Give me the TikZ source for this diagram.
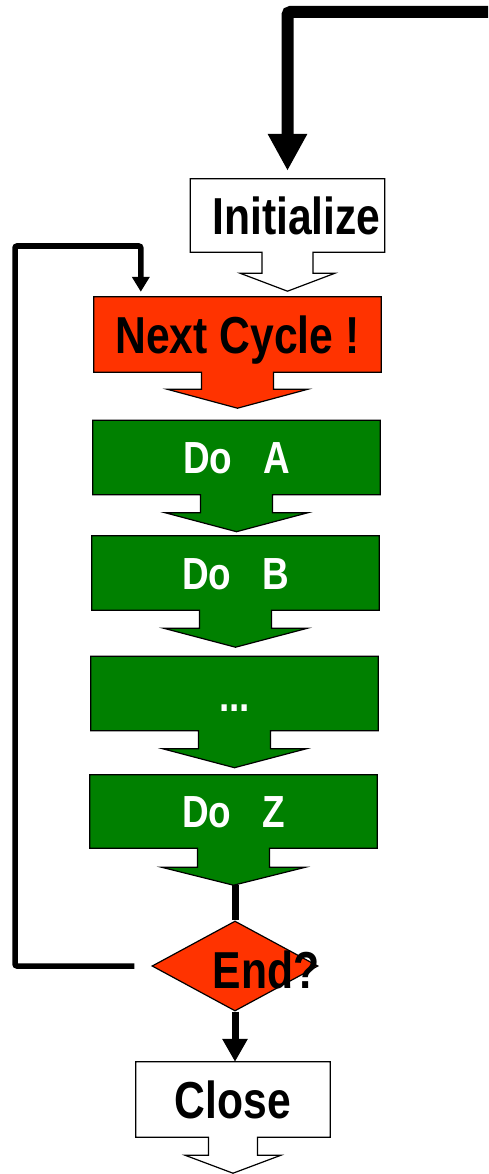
\documentclass[tikz,border=0pt]{standalone}
\usepackage{fontspec}
\newfontfamily\narrowfont{Liberation Sans}[FakeStretch=0.82]
\usetikzlibrary{arrows.meta,shapes.geometric,backgrounds}
\definecolor{alarm}{RGB}{255,51,0}
\definecolor{stepgreen}{RGB}{0,128,0}

% outline of a box with its tail: node, fill, stem half width, stem length, head half width, head length
\def\callout#1#2#3#4#5#6{%
  \begin{pgfonlayer}{background}
  \filldraw[fill=#2, line width=1.2pt]
    (#1.north west) -- (#1.north east) -- (#1.south east)
    -- ([xshift=#3]#1.south) -- ([xshift=#3, yshift=-#4]#1.south)
    -- ([xshift=#5, yshift=-#4]#1.south) -- ([yshift=-#4-#6]#1.south)
    -- ([xshift=-#5, yshift=-#4]#1.south) -- ([xshift=-#3, yshift=-#4]#1.south)
    -- ([xshift=-#3]#1.south) -- (#1.south west) -- cycle;
  \end{pgfonlayer}
  \coordinate (#1-tip) at ([yshift=-#4-#6]#1.south);
}

\tikzset{
  bigtext/.style={font=\narrowfont\bfseries\fontsize{52}{52}\selectfont, text height=37pt, text depth=0pt},
  plainbox/.style={bigtext, inner sep=0pt, minimum width=194pt, minimum height=73pt},
  stepbox/.style={inner sep=0pt, minimum width=287pt, minimum height=74pt, text=white,
    font=\narrowfont\bfseries\fontsize{45}{45}\selectfont, text height=32pt, text depth=0pt},
  decision/.style={diamond, draw, line width=1.2pt, fill=alarm, inner sep=0pt,
    aspect=1.84, minimum width=166pt, minimum height=90pt},
}

\begin{document}
\begin{tikzpicture}[x=1pt, y=-1pt]
    \useasboundingbox (0,0) rectangle (488,1174);

    % boxes
    \node[plainbox] (init) at (287.5,215.5) {\hspace{18pt}Initialize};
    \node[plainbox, minimum width=287pt, minimum height=75pt] (next) at (237.5,334.5) {Next Cycle !};
    \node[stepbox] (doa) at (236.5,457.5) {Do\hspace{31pt}A};
    \node[stepbox] (dob) at (235.5,573) {Do\hspace{31pt}B};
    \node[stepbox, text height=36pt] (dots) at (234.5,693.5) {...};
    \node[stepbox, minimum height=73pt] (doz) at (233.5,811.5) {Do\hspace{31pt}Z};
    \node[decision] (end) at (235,966) {};
    \node[bigtext] (endtext) at (266,970) {End?};
    \node[plainbox, minimum height=75pt] (close) at (233,1099.5) {Close};

    \callout{init}{white}{25.5pt}{21pt}{47.5pt}{18pt}
    \callout{next}{alarm}{36pt}{17pt}{70.5pt}{19pt}
    \callout{doa}{stepgreen}{36pt}{18pt}{71.5pt}{19pt}
    \callout{dob}{stepgreen}{36pt}{18pt}{72pt}{19pt}
    \callout{dots}{stepgreen}{36pt}{18pt}{72pt}{19pt}
    \callout{doz}{stepgreen}{36pt}{19pt}{72pt}{18pt}
    \callout{close}{white}{24.5pt}{18pt}{48pt}{18pt}

    % connectors
    \coordinate (src) at (488,12);
    \coordinate (loopturn) at (15,246);
    \draw[line width=12pt, rounded corners=3pt, -{Triangle[length=37pt, width=37pt]}]
        (src) -| ([yshift=8pt]init.north);
    \draw[line width=7pt] (end.north |- doz-tip) -- (end.north);
    \draw[line width=7pt, -{Triangle[length=23pt, width=24pt]}] (end.south) -- (end.south |- close.north);
    \draw[line width=5.5pt, rounded corners=2pt, -{Triangle[length=15pt, width=17pt]}]
        ([xshift=-17pt]end.west) -| (loopturn) -| ([xshift=47pt, yshift=5pt]next.north west);
\end{tikzpicture}
\end{document}
